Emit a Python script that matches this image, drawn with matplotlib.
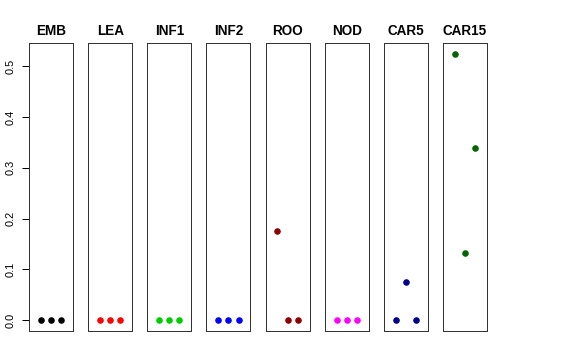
import matplotlib
matplotlib.use("Agg")
import matplotlib.pyplot as plt

plt.rcParams['font.family'] = ['Liberation Sans', 'DejaVu Sans']

panels = ["EMB", "LEA", "INF1", "INF2", "ROO", "NOD", "CAR5", "CAR15"]
colors = ["black", "#FF0000", "#00CD00", "#0000FF", "#8B0000", "#FF00FF", "#00008B", "#006400"]
xs = [1, 2, 3]
values = [
    [0, 0, 0],
    [0, 0, 0],
    [0, 0, 0],
    [0, 0, 0],
    [0.175, 0, 0],
    [0, 0, 0],
    [0, 0.074, 0],
    [0.524, 0.133, 0.339],
]
yticks = [0.0, 0.1, 0.2, 0.3, 0.4, 0.5]
ytick_labels = ["0.0", "0.1", "0.2", "0.3", "0.4", "0.5"]

W, H = 576, 360
fig = plt.figure(figsize=(W / 72, H / 72), dpi=72)

# panel geometry in pixels
left0, pitch, pw = 29, 59.14, 44
bottom, top = 331, 43

for i, name in enumerate(panels):
    ax = fig.add_axes([(left0 + i * pitch) / W, (H - bottom) / H, pw / W, (bottom - top) / H])
    ax.plot(xs, values[i], 'o', color=colors[i], markersize=5.5, linestyle='none')
    ax.set_xlim(-0.16, 4.16)
    ax.set_ylim(-0.0216, 0.546)
    ax.set_xticks([])
    for s in ax.spines.values():
        s.set_color('#333333')
        s.set_linewidth(1)
    ax.set_title(name, fontsize=13.5, fontweight='bold', pad=8)
    if i == 0:
        ax.set_yticks(yticks)
        ax.set_yticklabels(ytick_labels, rotation=90, va='center', fontsize=11)
        ax.tick_params(axis='y', length=7, pad=6, width=1)
    else:
        ax.set_yticks([])

fig.savefig("out.png", dpi=72)
